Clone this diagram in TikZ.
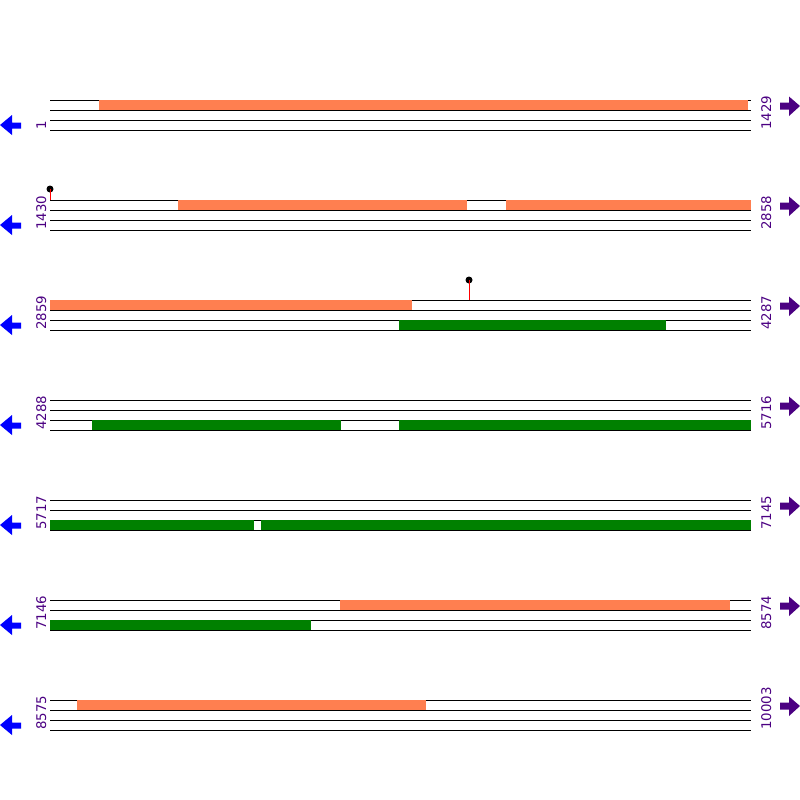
\documentclass[tikz,border=0pt]{standalone}
\usepackage{fontspec}
\setmainfont{DejaVu Sans}

\definecolor{fwdcolor}{RGB}{255,127,80}
\definecolor{revcolor}{RGB}{0,128,0}
\definecolor{poscolor}{RGB}{75,0,130}

\begin{document}
\begin{tikzpicture}[x = 0.75pt, y = -0.75pt, font = \fontsize{10}{12}\selectfont,
	track/.style = {line width = 0.75pt},
	fwdbar/.style = {fill = fwdcolor},
	revbar/.style = {fill = revcolor},
	poslabel/.style = {rotate = 90, anchor = base west, inner sep = 0pt, text = poscolor},
	site/.style = {circle, fill = black, inner sep = 0pt, minimum size = 5.25pt}]

	\useasboundingbox (0, 0) rectangle (800, 800);

	% Tracks, positions and strand arrows

	\foreach \y/\from/\to in {100/1/1429, 200/1430/2858, 300/2859/4287, 400/4288/5716,
		500/5717/7145, 600/7146/8574, 700/8575/10003}{

		\foreach \k in {0, 10, 20, 30}
			\draw [track] (50, \y + \k) -- (751, \y + \k);

		\node (from\y) [poslabel] at (46, \y + 30) {\from};
		\node (to\y) [poslabel] at (771, \y + 30) {\to};

		\fill [blue] (0, \y + 25) -- (12, \y + 15) -- (12, \y + 22.5) -- (21, \y + 22.5)
			-- (21, \y + 28.5) -- (12, \y + 28.5) -- (12, \y + 35) -- cycle;
		\fill [poscolor] (800, \y + 6) -- (789, \y - 3.5) -- (789, \y + 2.5) -- (780, \y + 2.5)
			-- (780, \y + 9.5) -- (789, \y + 9.5) -- (789, \y + 16) -- cycle;
	}

	% Forward features

	\fill [fwdbar] (99, 100) rectangle (748, 110);
	\fill [fwdbar] (178, 200) rectangle (467, 210);
	\fill [fwdbar] (506, 200) rectangle (751, 210);
	\fill [fwdbar] (50, 300) rectangle (412, 310);
	\fill [fwdbar] (340, 600) rectangle (730, 610);
	\fill [fwdbar] (77, 700) rectangle (426, 710);

	% Reverse features

	\fill [revbar] (399, 320) rectangle (666, 330);
	\fill [revbar] (92, 420) rectangle (341, 430);
	\fill [revbar] (399, 420) rectangle (751, 430);
	\fill [revbar] (50, 520) rectangle (254, 530);
	\fill [revbar] (261, 520) rectangle (751, 530);
	\fill [revbar] (50, 620) rectangle (311, 630);

	% Sites

	\coordinate (foot1) at (50, 200);
	\node (site1) [site] at (50, 189) {};
	\draw [red, track] (foot1) -- (site1.center);

	\coordinate (foot2) at (469, 300);
	\node (site2) [site] at (469, 280) {};
	\draw [red, track] (foot2) -- (site2.center);

\end{tikzpicture}
\end{document}
